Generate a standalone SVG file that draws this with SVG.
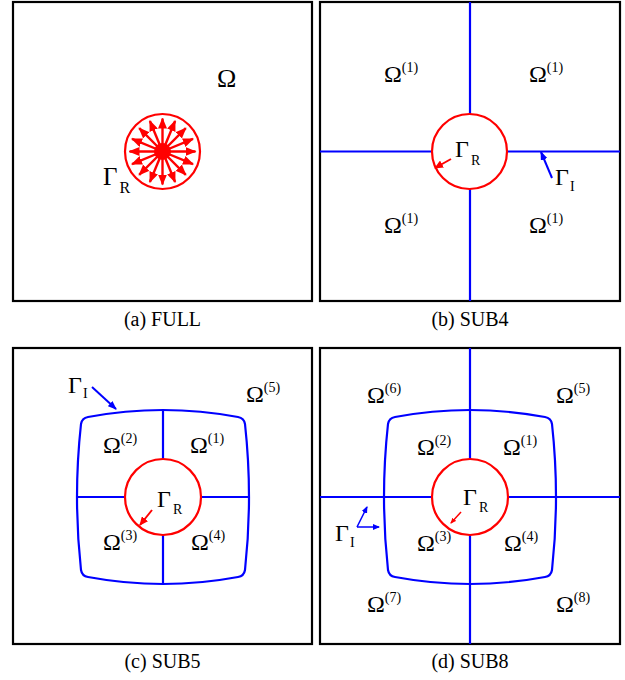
<svg xmlns="http://www.w3.org/2000/svg" width="625" height="680" viewBox="0 0 625 680">
<style>
.box{fill:none;stroke:#000;stroke-width:2.2}
.red{fill:none;stroke:#f00;stroke-width:2.2}
.blue{fill:none;stroke:#00f;stroke-width:2.2}
.t{font-family:"Liberation Serif","Times New Roman",serif;fill:#000}
.om{font-size:24px}
.sup{font-size:14px}
.gam{font-size:24px}
.sub{font-size:14px}
.cap{font-size:20px}
</style>
<defs>
<marker id="ar" markerUnits="userSpaceOnUse" markerWidth="11" markerHeight="9" refX="10" refY="4.5" orient="auto"><path d="M0,0 L11,4.5 L0,9 z" fill="#f00"/></marker>
<marker id="arS" markerUnits="userSpaceOnUse" markerWidth="9" markerHeight="8" refX="8" refY="4" orient="auto"><path d="M0,0 L9,4 L0,8 z" fill="#f00"/></marker>
<marker id="abS" markerUnits="userSpaceOnUse" markerWidth="9" markerHeight="7" refX="8" refY="3.5" orient="auto"><path d="M0,0 L9,3.5 L0,7 z" fill="#00f"/></marker>
<marker id="arT" markerUnits="userSpaceOnUse" markerWidth="6" markerHeight="5" refX="5" refY="2.5" orient="auto"><path d="M0,0 L6,2.5 L0,5 z" fill="#f00"/></marker>
<marker id="abT" markerUnits="userSpaceOnUse" markerWidth="7" markerHeight="6" refX="6" refY="3" orient="auto"><path d="M0,0 L7,3 L0,6 z" fill="#00f"/></marker>
</defs>

<!-- Panel (a) -->
<g id="panel-a">
<rect class="box" x="13" y="2" width="299" height="299"/>
<circle class="red" cx="162.5" cy="151.5" r="37.5"/>
<circle cx="162.5" cy="151.5" r="8.5" fill="#f00"/>
<text class="t" x="217" y="87" font-size="26">Ω</text>
<text class="t" x="103" y="185" font-size="25">Γ<tspan font-size="16" dx="2" dy="8">R</tspan></text>
</g>
<g id="connectors-a" stroke="#f00" stroke-width="2.4" marker-end="url(#ar)">
<line x1="162.5" y1="151.5" x2="195.5" y2="151.5"/>
<line x1="162.5" y1="151.5" x2="193" y2="164.1"/>
<line x1="162.5" y1="151.5" x2="185.8" y2="174.8"/>
<line x1="162.5" y1="151.5" x2="175.1" y2="182"/>
<line x1="162.5" y1="151.5" x2="162.5" y2="184.5"/>
<line x1="162.5" y1="151.5" x2="149.9" y2="182"/>
<line x1="162.5" y1="151.5" x2="139.2" y2="174.8"/>
<line x1="162.5" y1="151.5" x2="132" y2="164.1"/>
<line x1="162.5" y1="151.5" x2="129.5" y2="151.5"/>
<line x1="162.5" y1="151.5" x2="132" y2="138.9"/>
<line x1="162.5" y1="151.5" x2="139.2" y2="128.2"/>
<line x1="162.5" y1="151.5" x2="149.9" y2="121"/>
<line x1="162.5" y1="151.5" x2="162.5" y2="118.5"/>
<line x1="162.5" y1="151.5" x2="175.1" y2="121"/>
<line x1="162.5" y1="151.5" x2="185.8" y2="128.2"/>
<line x1="162.5" y1="151.5" x2="193" y2="138.9"/>
</g>
<text class="t cap" x="162.5" y="326" text-anchor="middle">(a) FULL</text>

<!-- Panel (b) -->
<g id="panel-b">
<rect class="box" x="320" y="2" width="300" height="299"/>
<path class="blue" d="M470,2 V114 M470,189 V301 M320,151.5 H432 M507,151.5 H620"/>
<circle class="red" cx="469.5" cy="151.5" r="37.5"/>
<text class="t om" x="384" y="82">Ω<tspan class="sup" dy="-10">(1)</tspan></text>
<text class="t om" x="529" y="82">Ω<tspan class="sup" dy="-10">(1)</tspan></text>
<text class="t om" x="384" y="233">Ω<tspan class="sup" dy="-10">(1)</tspan></text>
<text class="t om" x="529" y="233">Ω<tspan class="sup" dy="-10">(1)</tspan></text>
<text class="t gam" x="455" y="157">Γ<tspan class="sub" dx="2" dy="8">R</tspan></text>
<text class="t gam" x="555" y="185">Γ<tspan class="sub" dx="1" dy="6">I</tspan></text>
</g>
<g id="connectors-b" stroke-width="2">
<line x1="451" y1="159" x2="435" y2="168" stroke="#f00" marker-end="url(#arS)"/>
<line x1="552" y1="178" x2="541" y2="152" stroke="#00f" marker-end="url(#abS)"/>
</g>
<text class="t cap" x="470" y="326" text-anchor="middle">(b) SUB4</text>

<!-- Panel (c) -->
<g id="panel-c">
<rect class="box" x="13" y="348" width="299" height="296"/>
<path class="blue" d="M88,417 Q163,403 238,417 Q244,418 245,424 Q253,497 245,570 Q244,576 238,577 Q163,591 88,577 Q82,576 81,570 Q73,497 81,424 Q82,418 88,417 Z"/>
<path class="blue" d="M163,410 V459 M163,535 V584 M77,497 H125 M201,497 H249"/>
<circle class="red" cx="163" cy="497" r="38"/>
<text class="t om" x="103" y="453">Ω<tspan class="sup" dy="-10">(2)</tspan></text>
<text class="t om" x="190" y="453">Ω<tspan class="sup" dy="-10">(1)</tspan></text>
<text class="t om" x="103" y="550">Ω<tspan class="sup" dy="-10">(3)</tspan></text>
<text class="t om" x="191" y="550">Ω<tspan class="sup" dy="-10">(4)</tspan></text>
<text class="t om" x="246" y="402">Ω<tspan class="sup" dy="-10">(5)</tspan></text>
<text class="t gam" x="157" y="507">Γ<tspan class="sub" dx="2" dy="7">R</tspan></text>
<text class="t gam" x="68" y="393">Γ<tspan class="sub" dx="1" dy="5">I</tspan></text>
</g>
<g id="connectors-c" stroke-width="2">
<line x1="152" y1="510" x2="140" y2="525" stroke="#f00" marker-end="url(#arS)"/>
<line x1="92" y1="387" x2="116" y2="409" stroke="#00f" marker-end="url(#abS)"/>
</g>
<text class="t cap" x="162.5" y="668" text-anchor="middle">(c) SUB5</text>

<!-- Panel (d) -->
<g id="panel-d">
<rect class="box" x="320" y="348" width="300" height="296"/>
<path class="blue" d="M395,417 Q470,403 545,417 Q551,418 552,424 Q560,497 552,570 Q551,576 545,577 Q470,591 395,577 Q389,576 388,570 Q380,497 388,424 Q389,418 395,417 Z"/>
<path class="blue" d="M470,348 V459 M470,535 V644 M320,497 H432 M508,497 H620"/>
<circle class="red" cx="470" cy="497" r="38"/>
<text class="t om" x="417" y="455">Ω<tspan class="sup" dy="-10">(2)</tspan></text>
<text class="t om" x="503" y="455">Ω<tspan class="sup" dy="-10">(1)</tspan></text>
<text class="t om" x="417" y="551">Ω<tspan class="sup" dy="-10">(3)</tspan></text>
<text class="t om" x="504" y="551">Ω<tspan class="sup" dy="-10">(4)</tspan></text>
<text class="t om" x="367" y="403">Ω<tspan class="sup" dy="-10">(6)</tspan></text>
<text class="t om" x="556" y="403">Ω<tspan class="sup" dy="-10">(5)</tspan></text>
<text class="t om" x="367" y="612">Ω<tspan class="sup" dy="-10">(7)</tspan></text>
<text class="t om" x="556" y="612">Ω<tspan class="sup" dy="-10">(8)</tspan></text>
<text class="t gam" x="463" y="505">Γ<tspan class="sub" dx="2" dy="7">R</tspan></text>
<text class="t gam" x="335" y="541">Γ<tspan class="sub" dx="1" dy="6">I</tspan></text>
</g>
<g id="connectors-d" stroke-width="1.5">
<line x1="461" y1="512" x2="451" y2="523" stroke="#f00" marker-end="url(#arT)"/>
<line x1="357" y1="527" x2="367" y2="507" stroke="#00f" marker-end="url(#abT)"/>
<line x1="357" y1="527" x2="379" y2="527" stroke="#00f" marker-end="url(#abT)"/>
</g>
<text class="t cap" x="470" y="668" text-anchor="middle">(d) SUB8</text>
</svg>
